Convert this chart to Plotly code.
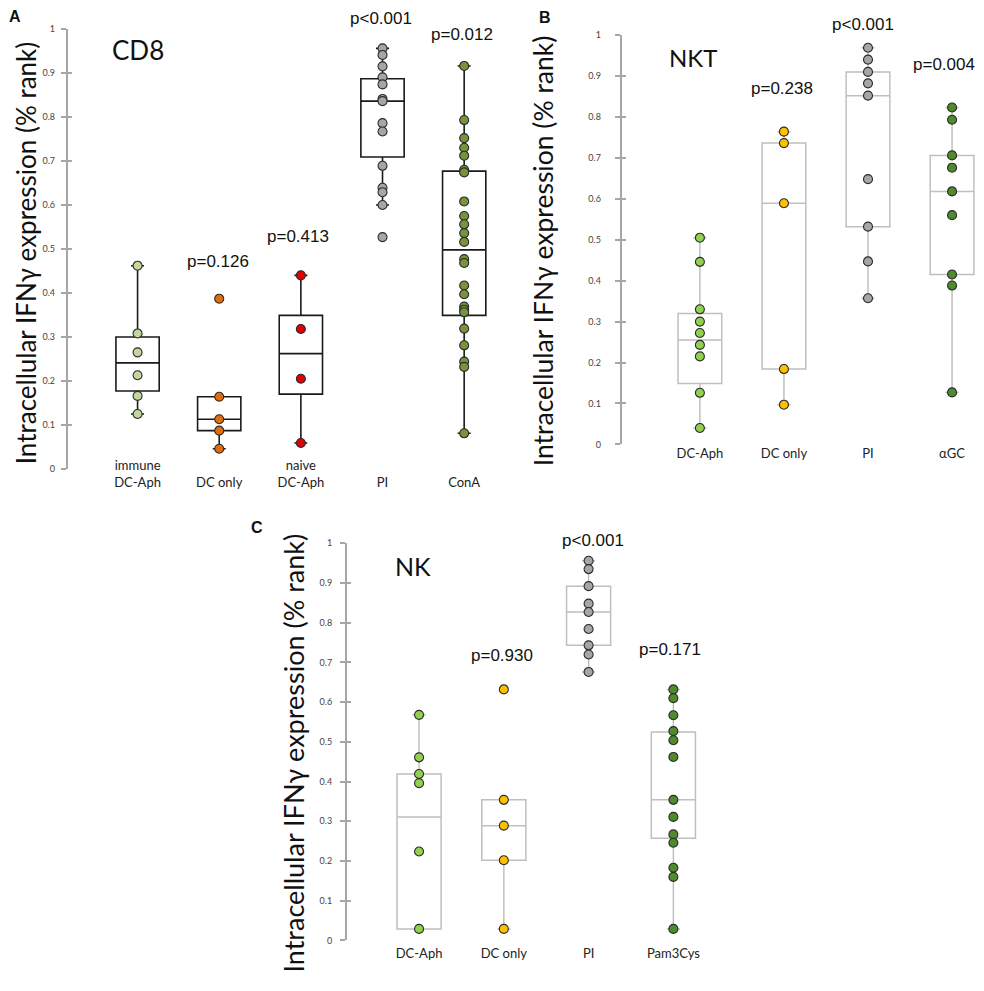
import plotly.graph_objects as go

# ---- data ----
# panel A: CD8
cd8_cats = ["immune DC-Aph", "DC only", "naive DC-Aph", "PI", "ConA"]
cd8_ticktext = ["immune<br>DC-Aph", "\u00a0<br>DC only", "naive<br>DC-Aph", "\u00a0<br>PI", "\u00a0<br>ConA"]
cd8_immune = [0.461, 0.307, 0.264, 0.212, 0.165, 0.124]
cd8_dconly = [0.386, 0.163, 0.112, 0.086, 0.045]
cd8_naive = [0.439, 0.317, 0.204, 0.058]
cd8_pi = [0.955, 0.940, 0.914, 0.889, 0.873, 0.840, 0.835, 0.785, 0.766, 0.688, 0.638, 0.628, 0.599, 0.526]
cd8_cona = [0.915, 0.792, 0.751, 0.729, 0.711, 0.679, 0.673, 0.607, 0.574, 0.555, 0.535, 0.515,
            0.476, 0.467, 0.416, 0.396, 0.368, 0.361, 0.355, 0.318, 0.280, 0.243, 0.231, 0.080]
cd8_q1 = [0.176, 0.086, 0.169, 0.708, 0.348]
cd8_med = [0.240, 0.112, 0.261, 0.835, 0.497]
cd8_q3 = [0.299, 0.163, 0.348, 0.886, 0.676]
cd8_lo = [0.124, 0.045, 0.058, 0.599, 0.080]
cd8_hi = [0.461, 0.163, 0.439, 0.955, 0.915]
cd8_p = ["", "p=0.126", "p=0.413", "p<0.001", "p=0.012"]

# panel B: NKT
nkt_cats = ["DC-Aph", "DC only", "PI", "αGC"]
nkt_dcaph = [0.505, 0.446, 0.330, 0.300, 0.272, 0.243, 0.215, 0.126, 0.040]
nkt_dconly = [0.764, 0.736, 0.589, 0.184, 0.097]
nkt_pi = [0.969, 0.940, 0.910, 0.882, 0.852, 0.648, 0.532, 0.447, 0.357]
nkt_agc = [0.823, 0.793, 0.706, 0.676, 0.618, 0.560, 0.415, 0.388, 0.127]
nkt_q1 = [0.149, 0.184, 0.532, 0.415]
nkt_med = [0.255, 0.589, 0.852, 0.618]
nkt_q3 = [0.320, 0.736, 0.910, 0.706]
nkt_lo = [0.040, 0.097, 0.357, 0.127]
nkt_hi = [0.505, 0.764, 0.969, 0.823]
nkt_p = ["", "p=0.238", "p<0.001", "p=0.004"]

# panel C: NK
nk_cats = ["DC-Aph", "DC only", "PI", "Pam3Cys"]
nk_dcaph = [0.568, 0.461, 0.419, 0.396, 0.224, 0.029]
nk_dconly = [0.632, 0.354, 0.289, 0.202, 0.029]
nk_pi = [0.956, 0.935, 0.892, 0.848, 0.827, 0.784, 0.743, 0.720, 0.676]
nk_pam = [0.632, 0.610, 0.567, 0.527, 0.504, 0.462, 0.354, 0.311, 0.267, 0.246, 0.183, 0.160, 0.029]
nk_q1 = [0.029, 0.202, 0.743, 0.257]
nk_med = [0.311, 0.289, 0.827, 0.354]
nk_q3 = [0.419, 0.354, 0.892, 0.525]
nk_lo = [0.029, 0.029, 0.676, 0.029]
nk_hi = [0.568, 0.354, 0.956, 0.632]
nk_p = ["", "p=0.930", "p<0.001", "p=0.171"]

ytitle = "Intracellular IFNγ expression (% rank)"

# ---- styling / layout helpers ----
# the page body has an 8px margin, so the figure is drawn 8px smaller and
# reference pixel positions are shifted by that offset
OFF = 8
W, H = 976, 975
GRAY = "#a6a6a6"
LIGHTGRAY = "#bfbfbf"
GREY_DOT = "#a6a6a6"
TXT = "Lato, 'Open Sans', sans-serif"
ARIAL = "'Liberation Sans', Arial, sans-serif"


def px(x):
    return (x - OFF) / W


def py(y):
    return 1 - (y - OFF) / H


fig = go.Figure()

panels = [
    # suffix, tick-axis, cats, groups, colours, box stats, line colour, line width, box width,
    # p labels, p label height (axis units), p label x shift (px)
    ("", "4", cd8_cats, [cd8_immune, cd8_dconly, cd8_naive, cd8_pi, cd8_cona],
     ["#c3d69b", "#e46c0a", "#e00000", GREY_DOT, "#77933c"],
     (cd8_q1, cd8_med, cd8_q3, cd8_lo, cd8_hi), "#1a1a1a", 1.6, 0.53,
     cd8_p, [0, 0.47, 0.528, 1.022, 0.987], [0, -1, -3, -2, -2]),
    ("2", "5", nkt_cats, [nkt_dcaph, nkt_dconly, nkt_pi, nkt_agc],
     ["#92d050", "#ffc000", GREY_DOT, "#4f8a2b"],
     (nkt_q1, nkt_med, nkt_q3, nkt_lo, nkt_hi), LIGHTGRAY, 1.5, 0.52,
     nkt_p, [0, 0.870, 1.026, 0.929], [0, -2, -5, -8]),
    ("3", "6", nk_cats, [nk_dcaph, nk_dconly, nk_pi, nk_pam],
     ["#92d050", "#ffc000", GREY_DOT, "#4f8a2b"],
     (nk_q1, nk_med, nk_q3, nk_lo, nk_hi), LIGHTGRAY, 1.5, 0.52,
     nk_p, [0, 0.717, 1.008, 0.732], [0, -2, 4, -3]),
]

annotations = []
for suf, tick_ax, cats, groups, colors, stats, lc, lw, bw, plabels, pys, pdx in panels:
    q1, med, q3, lo, hi = stats
    fig.add_trace(go.Box(
        x=cats, q1=q1, median=med, q3=q3, lowerfence=lo, upperfence=hi,
        width=bw, whiskerwidth=0.3, boxpoints=False,
        line=dict(color=lc, width=lw), fillcolor="rgba(255,255,255,0)",
        xaxis="x" + suf, yaxis="y" + suf, hoverinfo="skip", showlegend=False))
    for cat, vals, col in zip(cats, groups, colors):
        fig.add_trace(go.Scatter(
            x=[cat] * len(vals), y=vals, mode="markers",
            marker=dict(size=9, color=col, line=dict(color="#2b2b2b", width=1.1)),
            cliponaxis=False, xaxis="x" + suf, yaxis="y" + suf,
            hoverinfo="skip", showlegend=False))
    for cat, lab, yv, dx in zip(cats, plabels, pys, pdx):
        if lab:
            # y axis range is [0, 1], so the domain fraction equals the axis value
            annotations.append(dict(
                x=cat, y=yv, xref="x" + suf, yref="y%s domain" % suf, text=lab,
                xanchor="center", yanchor="middle", xshift=dx, showarrow=False,
                font=dict(family=ARIAL, size=17, color="#111111")))
    # empty trace so the overlay axis (inward half of the crossing ticks) is drawn
    fig.add_trace(go.Scatter(x=[], y=[], xaxis="x" + suf, yaxis="y" + tick_ax,
                             showlegend=False, hoverinfo="skip"))

ytick_common = dict(range=[0, 1], dtick=0.1, tick0=0, showgrid=False, zeroline=False,
                    tickfont=dict(family=TXT, size=9, color="#4a3f3a"),
                    ticks="outside", ticklen=5)
xcommon = dict(type="category", showline=False, showgrid=False, zeroline=False, ticks="",
               tickfont=dict(family=TXT, size=13, color="#222222"))


def inner_ticks(over, anchor, width):
    return dict(range=[0, 1], dtick=0.1, tick0=0, overlaying=over, anchor=anchor, side="left",
                ticks="inside", ticklen=4, tickcolor=GRAY, tickwidth=width, showticklabels=False,
                showgrid=False, zeroline=False, showline=False)


# panel A axes
fig.update_layout(
    xaxis=dict(xcommon, domain=[px(68), px(505)], range=[-0.852, 4.5], anchor="free",
               position=py(455), tickvals=cd8_cats, ticktext=cd8_ticktext),
    yaxis=dict(ytick_common, domain=[py(467.7), py(22.7)], anchor="x", showline=True,
               linecolor=GRAY, linewidth=2.2, tickcolor=GRAY, tickwidth=2, ticklabelstandoff=4),
    yaxis4=inner_ticks("y", "x", 2),
)

# panel B axes
fig.update_layout(
    xaxis2=dict(xcommon, domain=[px(621.7), 1.0], range=[-0.93, 3.38], anchor="y2"),
    yaxis2=dict(ytick_common, domain=[py(443.3), py(29.3)], anchor="x2", showline=True,
                linecolor=GRAY, linewidth=2, tickcolor=GRAY, tickwidth=1.5, ticklabelstandoff=12),
    yaxis5=inner_ticks("y2", "x2", 1.5),
)

# panel C axes
fig.update_layout(
    xaxis3=dict(xcommon, domain=[px(347), px(720)], range=[-0.85, 3.55], anchor="y3",
                ticklabelstandoff=4),
    yaxis3=dict(ytick_common, domain=[py(945), py(543.3)], anchor="x3", showline=True,
                linecolor=GRAY, linewidth=2, tickcolor=GRAY, tickwidth=1.5, ticklabelstandoff=6),
    yaxis6=inner_ticks("y3", "x3", 1.5),
)

# titles, y-axis titles, panel letters
for text, x, y, size in [("CD8", 138, 44, 26), ("NKT", 693, 52, 24), ("NK", 413, 566, 25)]:
    annotations.append(dict(x=px(x), y=py(y), xref="paper", yref="paper", text=text,
                            xanchor="center", yanchor="middle", showarrow=False,
                            font=dict(family=TXT, size=size, color="#111111")))
for x, y, size in [(26, 250, 26), (543, 248, 26.5), (294, 756, 27)]:
    annotations.append(dict(x=px(x), y=py(y), xref="paper", yref="paper", text=ytitle,
                            textangle=-90, xanchor="center", yanchor="middle", showarrow=False,
                            font=dict(family=TXT, size=size, color="#111111")))
for text, x, y in [("A", 15, 11), ("B", 545, 12), ("C", 257, 527)]:
    annotations.append(dict(x=px(x), y=py(y), xref="paper", yref="paper", text="<b>%s</b>" % text,
                            xanchor="center", yanchor="middle", showarrow=False,
                            font=dict(family=ARIAL, size=16, color="#111111")))

fig.update_layout(
    width=W, height=H, margin=dict(l=0, r=0, t=0, b=0),
    paper_bgcolor="white", plot_bgcolor="rgba(0,0,0,0)",
    showlegend=False, annotations=annotations, boxmode="overlay",
)

fig.write_html("out.html")
